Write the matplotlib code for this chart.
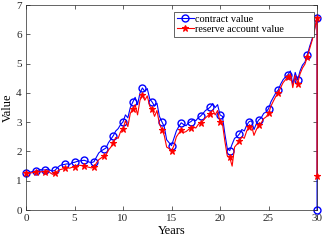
import numpy as np
import matplotlib
matplotlib.use("Agg")
import matplotlib.pyplot as plt

# quarterly time grid, one extra point at year 30 for the final payout drop
years = [0, 0.25, 0.5, 0.75, 1, 1.25, 1.5, 1.75, 2, 2.25, 2.5, 2.75,
         3, 3.25, 3.5, 3.75, 4, 4.25, 4.5, 4.75, 5, 5.25, 5.5, 5.75,
         6, 6.25, 6.5, 6.75, 7, 7.25, 7.5, 7.75, 8, 8.25, 8.5, 8.75,
         9, 9.25, 9.5, 9.75, 10, 10.25, 10.5, 10.75, 11, 11.25, 11.5, 11.75,
         12, 12.25, 12.5, 12.75, 13, 13.25, 13.5, 13.75, 14, 14.25, 14.5, 14.75,
         15, 15.25, 15.5, 15.75, 16, 16.25, 16.5, 16.75, 17, 17.25, 17.5, 17.75,
         18, 18.25, 18.5, 18.75, 19, 19.25, 19.5, 19.75, 20, 20.25, 20.5, 20.75,
         21, 21.25, 21.5, 21.75, 22, 22.25, 22.5, 22.75, 23, 23.25, 23.5, 23.75,
         24, 24.25, 24.5, 24.75, 25, 25.25, 25.5, 25.75, 26, 26.25, 26.5, 26.75,
         27, 27.25, 27.5, 27.75, 28, 28.25, 28.5, 28.75, 29, 29.25, 29.5, 29.75,
         30, 30]

contract = [1.25, 1.28, 1.30, 1.32, 1.33, 1.36, 1.38, 1.37, 1.37, 1.40, 1.36, 1.33,
            1.36, 1.45, 1.52, 1.55, 1.56, 1.58, 1.55, 1.62, 1.63, 1.66, 1.68, 1.69,
            1.70, 1.67, 1.64, 1.62, 1.65, 1.80, 1.95, 2.02, 2.07, 2.12, 2.30, 2.42,
            2.54, 2.70, 2.78, 2.92, 3.01, 3.25, 3.15, 3.50, 3.68, 3.85, 3.60, 4.00,
            4.17, 4.05, 4.15, 3.80, 3.69, 3.55, 3.65, 3.20, 3.02, 2.85, 2.40, 2.30,
            2.20, 2.45, 2.70, 2.85, 2.98, 2.92, 2.88, 2.98, 3.02, 3.10, 3.05, 3.15,
            3.21, 3.30, 3.40, 3.45, 3.52, 3.64, 3.50, 3.60, 3.25, 3.20, 2.60, 2.10,
            2.03, 2.25, 2.45, 2.50, 2.60, 2.75, 2.70, 2.90, 3.02, 3.05, 2.75, 2.95,
            3.08, 3.15, 3.30, 3.35, 3.46, 3.70, 3.85, 4.00, 4.10, 4.30, 4.45, 4.55,
            4.62, 4.75, 4.30, 4.70, 4.44, 4.75, 4.95, 5.05, 5.30, 5.60, 5.85, 6.20,
            6.55, 0.0]

reserve = [1.25, 1.24, 1.27, 1.28, 1.29, 1.33, 1.30, 1.32, 1.31, 1.35, 1.27, 1.22,
           1.25, 1.33, 1.38, 1.40, 1.42, 1.45, 1.43, 1.46, 1.47, 1.50, 1.53, 1.52,
           1.51, 1.48, 1.46, 1.44, 1.47, 1.60, 1.72, 1.78, 1.83, 1.88, 2.05, 2.15,
           2.29, 2.48, 2.45, 2.68, 2.77, 3.05, 2.85, 3.30, 3.45, 3.60, 3.25, 3.75,
           3.92, 3.75, 3.90, 3.55, 3.45, 3.20, 3.40, 2.95, 2.75, 2.55, 2.15, 2.10,
           2.02, 2.20, 2.50, 2.62, 2.74, 2.65, 2.68, 2.75, 2.80, 2.85, 2.80, 2.92,
           2.99, 3.05, 3.15, 3.22, 3.29, 3.42, 3.25, 3.40, 3.00, 2.95, 2.35, 1.85,
           1.80, 1.50, 2.15, 2.25, 2.35, 2.50, 2.45, 2.70, 2.85, 2.88, 2.55, 2.75,
           2.90, 2.98, 3.12, 3.18, 3.30, 3.55, 3.72, 3.88, 4.00, 4.18, 4.35, 4.45,
           4.53, 4.65, 4.18, 4.60, 4.32, 4.65, 4.85, 4.98, 5.23, 5.52, 5.80, 6.15,
           6.55, 1.15]

# markers once a year plus the final point
marks = list(range(0, 121, 4)) + [121]

plt.rcParams['font.family'] = ['Liberation Serif', 'DejaVu Serif']
plt.rcParams['mathtext.fontset'] = 'stix'

fig = plt.figure(figsize=(3.27, 2.42), dpi=100)
ax = fig.add_axes([0.0795, 0.132, 0.890, 0.847])

ax.plot(years, contract, color='b', lw=0.8, marker='o', markersize=5,
        markerfacecolor='none', markeredgewidth=1.0, markevery=marks,
        clip_on=False, label='contract value', zorder=2)
ax.plot(years, reserve, color='r', lw=0.8, marker='*', markersize=5,
        markerfacecolor='r', markeredgewidth=0.8, markevery=marks,
        clip_on=False, label='reserve account value', zorder=3)

ax.set_xlim(0, 30)
ax.set_ylim(0, 7)
ax.set_xticks([0, 5, 10, 15, 20, 25, 30])
ax.set_yticks([0, 1, 2, 3, 4, 5, 6, 7])
ax.tick_params(direction='in', top=True, right=True, length=3, width=0.5,
               labelsize=8, colors='0.15', pad=3)
for sp in ax.spines.values():
    sp.set_linewidth(0.5)
    sp.set_color('0.15')

ax.set_xlabel('Years', fontsize=9, labelpad=1)
ax.set_ylabel('Value', fontsize=9, labelpad=2)

# matlab-style legend box, wider than its text
leg = ax.legend(loc='upper left', mode='expand', fontsize=7.4, fancybox=False,
                framealpha=1, edgecolor='0.15', handlelength=1.7,
                handletextpad=0.1, borderpad=0.25, labelspacing=0.1,
                borderaxespad=0, bbox_to_anchor=(0.509, 0.0, 0.481, 0.966))
leg.get_frame().set_linewidth(0.5)

fig.savefig('out.png', dpi=100)
